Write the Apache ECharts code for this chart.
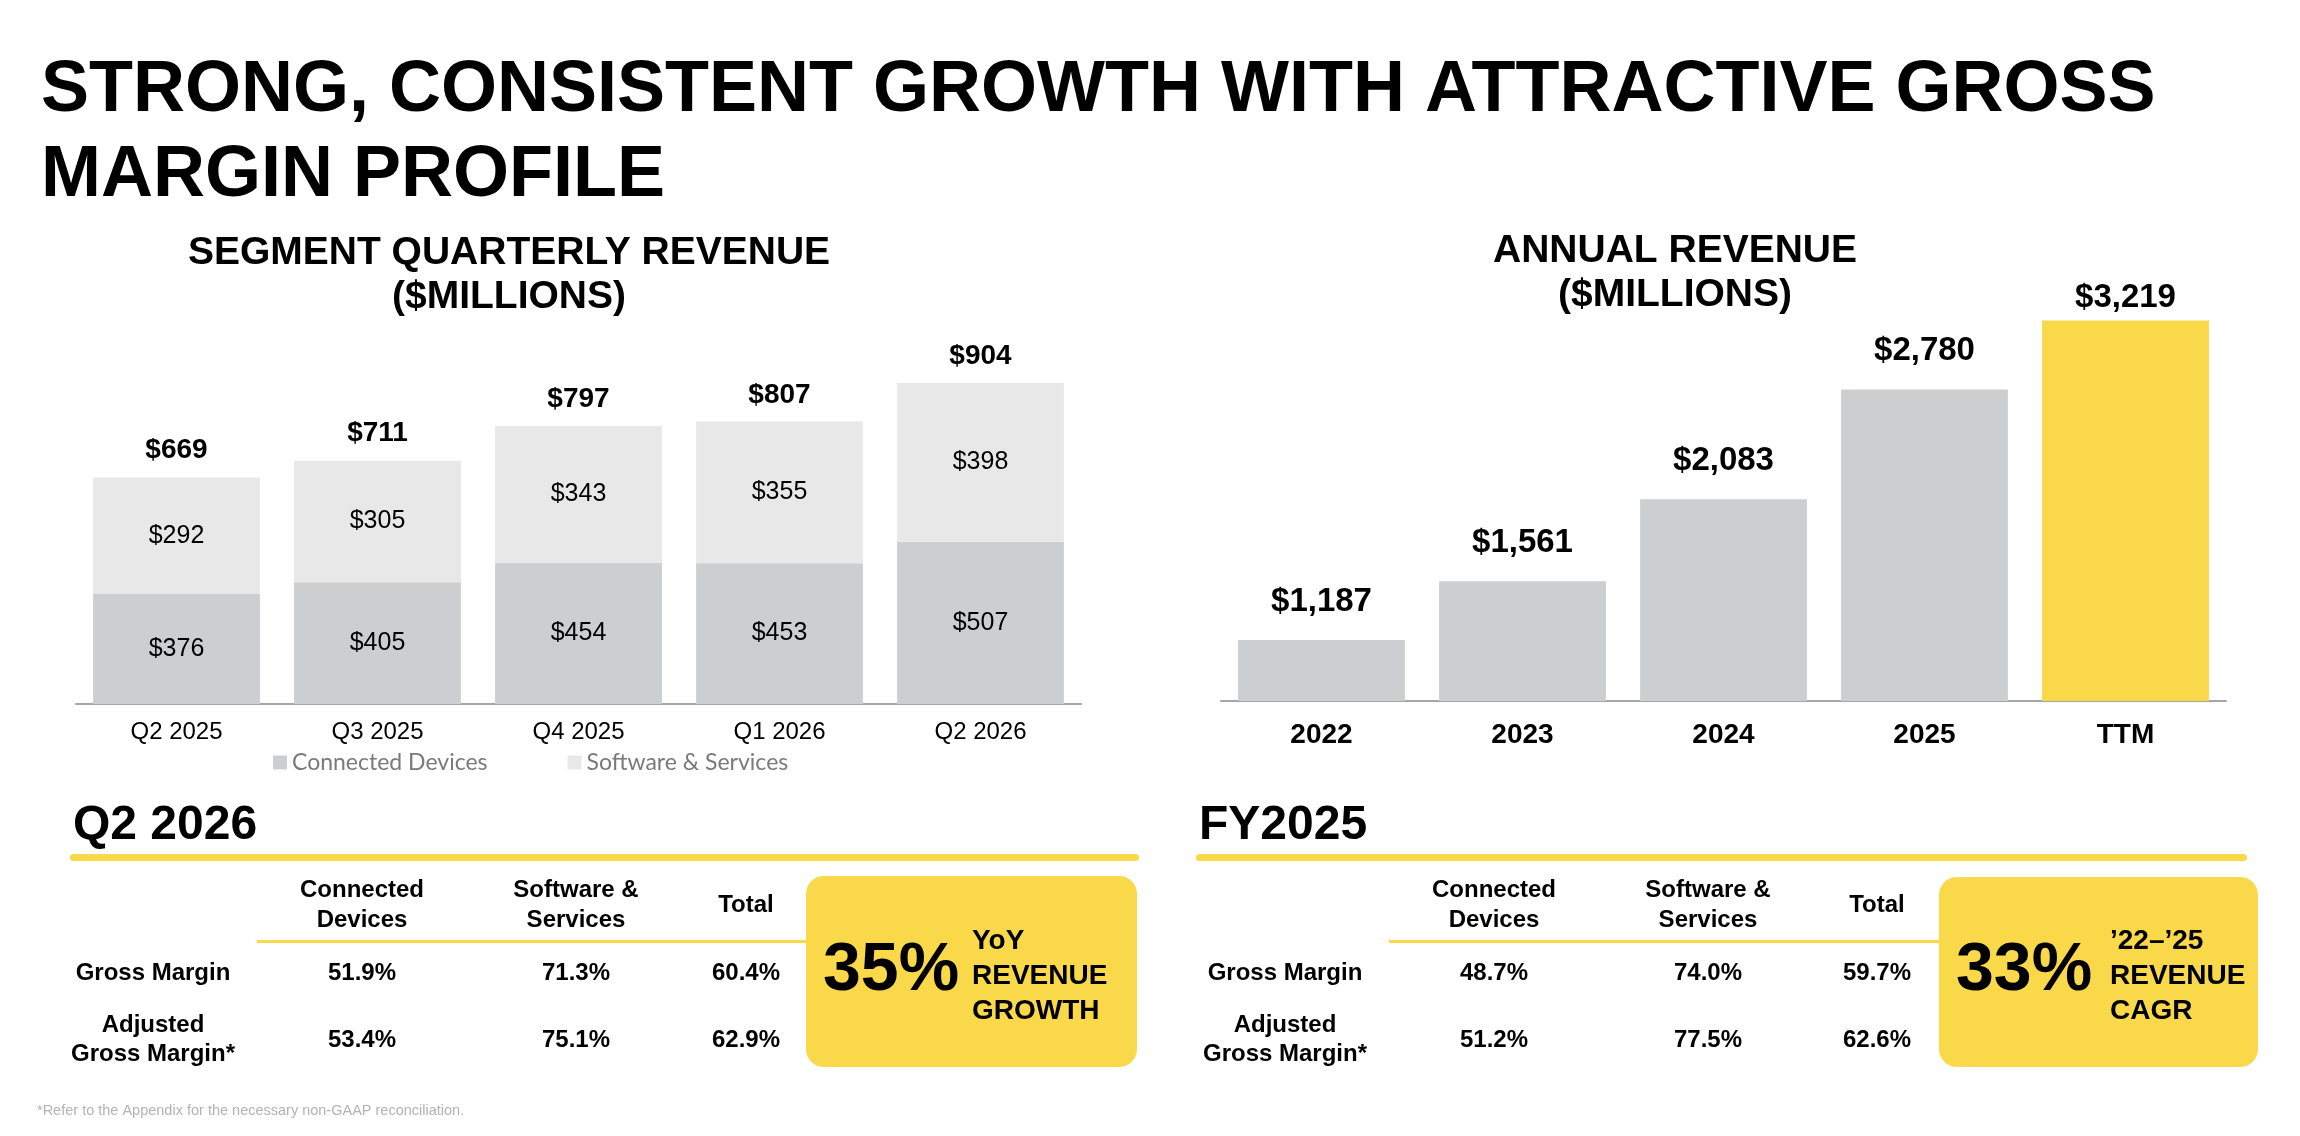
<!DOCTYPE html>
<html><head><meta charset="utf-8">
<script src="https://cdn.jsdelivr.net/npm/echarts@6/dist/echarts.min.js"></script>
<style>html,body{margin:0;padding:0;background:#fff}#c{width:2300px;height:1136px}</style>
</head><body><div id="c"></div>
<script>
// ---- data ----
const quarters = ['Q2 2025', 'Q3 2025', 'Q4 2025', 'Q1 2026', 'Q2 2026'];
const connectedDevices = [376, 405, 454, 453, 507];
const softwareServices = [292, 305, 343, 355, 398];
const quarterlyTotal = [669, 711, 797, 807, 904];
const years = ['2022', '2023', '2024', '2025', 'TTM'];
const annualRevenue = [1187, 1561, 2083, 2780, 3219];
const tableColumns = ['Connected\nDevices', 'Software &\nServices', 'Total'];
const tableRows = ['Gross Margin', 'Adjusted\nGross Margin*'];
const q2GrossMargin = ['51.9%', '71.3%', '60.4%'];
const q2AdjGrossMargin = ['53.4%', '75.1%', '62.9%'];
const fyGrossMargin = ['48.7%', '74.0%', '59.7%'];
const fyAdjGrossMargin = ['51.2%', '77.5%', '62.6%'];
const q2Highlight = ['35%', 'YoY\nREVENUE\nGROWTH'];
const fyHighlight = ['33%', '\u201922\u2013\u201925\nREVENUE\nCAGR'];

// ---- styles ----
const FONT = '"Liberation Sans", Arial, Helvetica, sans-serif';
const GRAY_DARK = '#cdced0';
const GRAY_LIGHT = '#e8e8e8';
const YELLOW = '#f9d84a';
const money = v => '$' + String(v).replace(/\B(?=(\d{3})+(?!\d))/g, ',');

function txt(text, x, y, size, opts) {
  opts = opts || {};
  return {
    type: 'text', silent: true,
    style: {
      text: text, x: x, y: y,
      font: (opts.weight || 'bold') + ' ' + size + 'px ' + FONT,
      fill: opts.color || '#000',
      align: opts.align || 'center', textAlign: opts.align || 'center',
      verticalAlign: 'middle', textVerticalAlign: 'middle',
      lineHeight: opts.lineHeight || size
    }
  };
}
function rect(x, y, w, h, r, color) {
  return { type: 'rect', silent: true, shape: { x: x, y: y, width: w, height: h, r: r }, style: { fill: color } };
}
function section(title, x0, lineEnd, colX, labelX, rows, thinStart, box, highlight) {
  const g = [];
  g.push(txt(title, x0, 826, 48, { align: 'left' }));
  g.push(rect(x0 - 3, 854, lineEnd - x0 + 3, 7, 3.5, YELLOW));
  g.push(rect(thinStart, 940, box.x - thinStart + 4, 3, 0, YELLOW));
  tableColumns.forEach((c, i) => g.push(txt(c, colX[i], 905, 24, { lineHeight: 30 })));
  const rowY = [973, 1040];
  tableRows.forEach((r, j) => {
    g.push(txt(r, labelX, rowY[j], 24, { lineHeight: 29 }));
    rows[j].forEach((v, i) => g.push(txt(v, colX[i], rowY[j], 24)));
  });
  g.push(rect(box.x, box.y, box.w, box.h, 18, YELLOW));
  g.push(txt(highlight[0], box.x + 17, 971, 68, { align: 'left' }));
  g.push(txt(highlight[1], box.tx, 976, 28, { align: 'left', lineHeight: 35 }));
  return g;
}

const graphics = [
  txt('STRONG, CONSISTENT GROWTH WITH ATTRACTIVE GROSS', 41, 91, 72, { align: 'left' }),
  txt('MARGIN PROFILE', 41, 176, 72, { align: 'left' }),
  txt('SEGMENT QUARTERLY REVENUE\n($MILLIONS)', 509, 275, 39, { lineHeight: 44 }),
  txt('ANNUAL REVENUE\n($MILLIONS)', 1675, 273, 39, { lineHeight: 44 }),
  txt('*Refer to the Appendix for the necessary non-GAAP reconciliation.', 37, 1111, 14.5, { align: 'left', weight: 'normal', color: '#b3b3b3' })
].concat(
  section('Q2 2026', 73, 1139, [362, 576, 746], 153, [q2GrossMargin, q2AdjGrossMargin], 257,
    { x: 806, y: 876, w: 331, h: 191, tx: 972 }, q2Highlight),
  section('FY2025', 1199, 2247, [1494, 1708, 1877], 1285, [fyGrossMargin, fyAdjGrossMargin], 1389,
    { x: 1939, y: 877, w: 319, h: 190, tx: 2110 }, fyHighlight)
);

const annualLabel = { show: true, position: 'top', distance: 22, formatter: p => money(p.value), color: '#000', fontSize: 33, fontWeight: 'bold', fontFamily: FONT };

const chart = echarts.init(document.getElementById('c'), null, { renderer: 'canvas' });
const axisLine = { show: true, lineStyle: { color: '#a6a6a6', width: 2 } };
chart.setOption({
  animation: false,
  backgroundColor: '#fff',
  textStyle: { fontFamily: FONT },
  grid: [
    { left: 76, width: 1005, top: 345, height: 359 },
    { left: 1221, width: 1005, top: 292, height: 409 }
  ],
  xAxis: [
    { type: 'category', gridIndex: 0, data: quarters, axisLine: axisLine, axisTick: { show: false },
      axisLabel: { color: '#000', fontSize: 24, margin: 16, fontFamily: FONT } },
    { type: 'category', gridIndex: 1, data: years, axisLine: axisLine, axisTick: { show: false },
      axisLabel: { color: '#000', fontSize: 28, fontWeight: 'bold', margin: 20, fontFamily: FONT } }
  ],
  yAxis: [
    { type: 'value', gridIndex: 0, min: 100, max: 1000, show: false, splitLine: { show: false } },
    { type: 'value', gridIndex: 1, min: 800, max: 3400, show: false, splitLine: { show: false } }
  ],
  legend: {
    data: ['Connected Devices', 'Software & Services'],
    left: 273, top: 751, padding: 0, itemGap: 80, itemWidth: 14, itemHeight: 14, icon: 'rect',
    textStyle: { color: '#7a7a7a', fontSize: 23, fontFamily: 'Lato, "Open Sans", sans-serif' }
  },
  series: [
    { name: 'Connected Devices', type: 'bar', stack: 'q', xAxisIndex: 0, yAxisIndex: 0, clip: true,
      data: connectedDevices, barCategoryGap: '17%', itemStyle: { color: GRAY_DARK },
      label: { show: true, position: 'inside', formatter: p => money(p.value), color: '#000', fontSize: 25, fontFamily: FONT } },
    { name: 'Software & Services', type: 'bar', stack: 'q', xAxisIndex: 0, yAxisIndex: 0, clip: true,
      data: softwareServices, barCategoryGap: '17%', itemStyle: { color: GRAY_LIGHT },
      label: { show: true, position: 'inside', formatter: p => money(p.value), color: '#000', fontSize: 25, fontFamily: FONT } },
    { name: 'Total', type: 'bar', xAxisIndex: 0, yAxisIndex: 0, clip: true, silent: true,
      data: quarterlyTotal, barGap: '-100%', barCategoryGap: '17%', itemStyle: { color: 'rgba(0,0,0,0)' },
      label: { show: true, position: 'top', distance: 13, formatter: p => money(p.value), color: '#000', fontSize: 28, fontWeight: 'bold', fontFamily: FONT } },
    { name: 'Annual Revenue', type: 'bar', xAxisIndex: 1, yAxisIndex: 1, clip: true, barCategoryGap: '17%',
      data: annualRevenue.map((v, i) => years[i] === 'TTM'
        ? { value: v, itemStyle: { color: YELLOW }, label: { distance: 6 } }
        : { value: v, itemStyle: { color: GRAY_DARK } }),
      label: annualLabel }
  ],
  graphic: graphics
});
</script></body></html>
